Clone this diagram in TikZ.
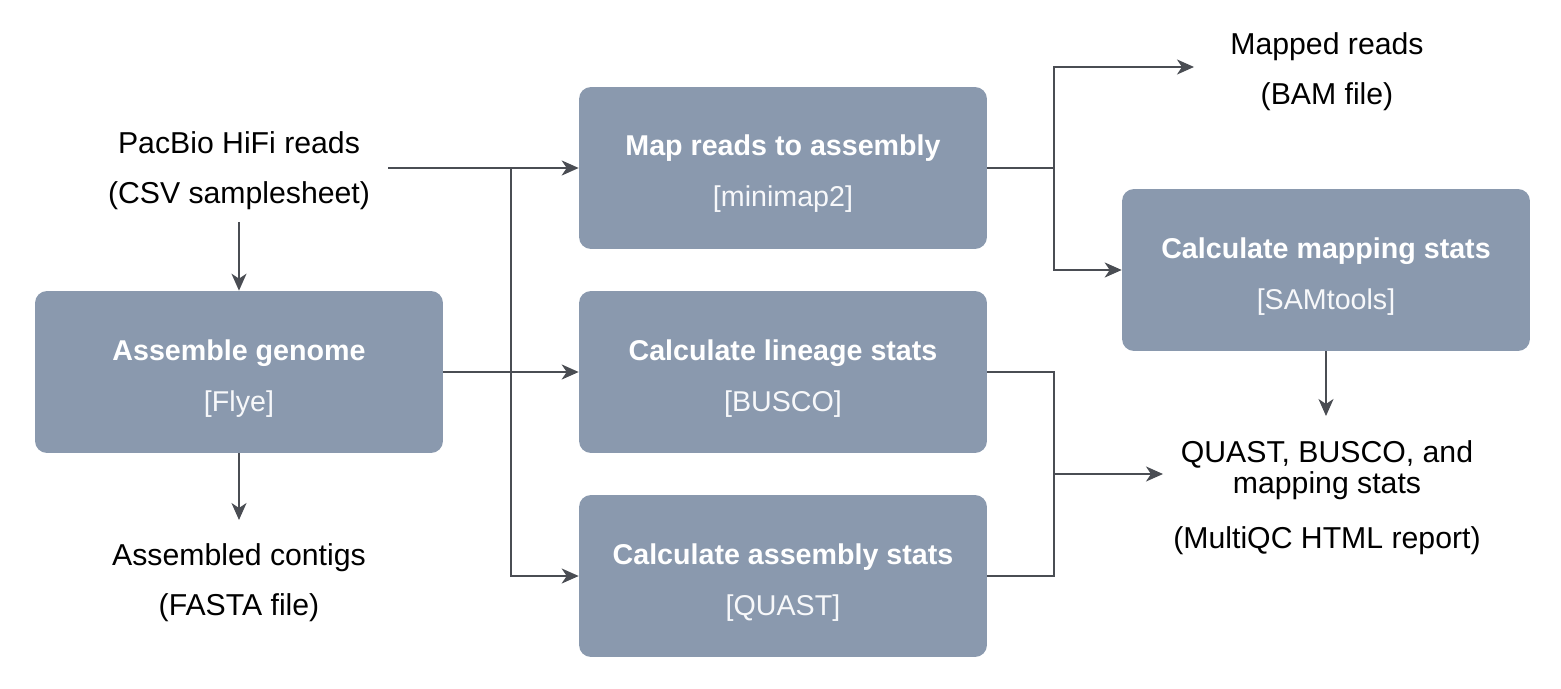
\documentclass[tikz,border=0pt]{standalone}
\usepackage{fontspec}
\setmainfont{Liberation Sans}
\usetikzlibrary{arrows.meta}
\definecolor{boxfill}{HTML}{8A99AE}
\definecolor{linec}{HTML}{4A4D53}
\definecolor{subc}{HTML}{F7F8FA}
\begin{document}
\begin{tikzpicture}[x=0.02cm,y=-0.02cm,
  box/.style={fill=boxfill, rounded corners=0.24cm, minimum width=8.16cm, minimum height=3.24cm, inner sep=0pt},
  ttl/.style={anchor=base, text=white, font=\fontsize{16.3}{19}\selectfont\bfseries, inner sep=0pt},
  sub/.style={anchor=base, text=subc, font=\fontsize{16.3}{19}\selectfont, inner sep=0pt},
  txt/.style={anchor=base, text=black, font=\fontsize{17.2}{20}\selectfont, inner sep=0pt},
  conn/.style={draw=linec, line width=0.04cm},
  arr/.style={conn, -{Stealth[length=0.34cm,width=0.3cm,inset=0.1cm]}}]
\useasboundingbox (0,0) rectangle (1561,689);

% boxes
\node[box] (map) at (783,168) {};
\node[box] (lin) at (783,372) {};
\node[box] (qst) at (783,576) {};
\node[box] (asm) at (239,372) {};
\node[box] (mst) at (1326,270) {};

\node[ttl] (mapT) at (783,156) {Map reads to assembly};
\node[sub] (mapS) at (783,207) {[minimap2]};
\node[ttl] (linT) at (783,360) {Calculate lineage stats};
\node[sub] (linS) at (783,411) {[BUSCO]};
\node[ttl] (qstT) at (783,564) {Calculate assembly stats};
\node[sub] (qstS) at (783,615) {[QUAST]};
\node[ttl] (asmT) at (239,360) {Assemble genome};
\node[sub] (asmS) at (239,411) {[Flye]};
\node[ttl] (mstT) at (1326,258) {Calculate mapping stats};
\node[sub] (mstS) at (1326,309) {[SAMtools]};

% free texts
\node[txt] (pac1) at (239,154) {PacBio HiFi reads};
\node[txt] (pac2) at (239,204) {(CSV samplesheet)};
\node[txt] (ctg1) at (239,565) {Assembled contigs};
\node[txt] (ctg2) at (239,615) {(FASTA file)};
\node[txt] (bam1) at (1327,55) {Mapped reads};
\node[txt] (bam2) at (1327,105) {(BAM file)};
\node[txt] (qc1) at (1327,462) {QUAST, BUSCO, and};
\node[txt] (qc2) at (1327,493) {mapping stats};
\node[txt] (qc3) at (1327,548) {(MultiQC HTML report)};

% coordinates
\coordinate (pacout) at (388,168);
\coordinate (j1) at (511,168);
\coordinate (pacdown) at (239,222);
\coordinate (ctgin) at (239,520);
\coordinate (j2) at (1054,168);
\coordinate (bamin) at (1194,67);
\coordinate (j3) at (1054,474);
\coordinate (qcin) at (1163,474);
\coordinate (qcdown) at (1326,416);

% connectors
\draw[arr] (pacout) -- (map.west);
\draw[arr] (j1) |- (qst.west);
\draw[arr] (asm.east) -- (lin.west);
\draw[arr] (pacdown) -- (asm.north);
\draw[arr] (asm.south) -- (ctgin);
\draw[conn] (map.east) -- (j2);
\draw[arr] (j2) |- (bamin);
\draw[arr] (j2) |- (mst.west);
\draw[conn] (lin.east) -| (j3) |- (qst.east);
\draw[arr] (j3) -- (qcin);
\draw[arr] (mst.south) -- (qcdown);
\end{tikzpicture}
\end{document}
